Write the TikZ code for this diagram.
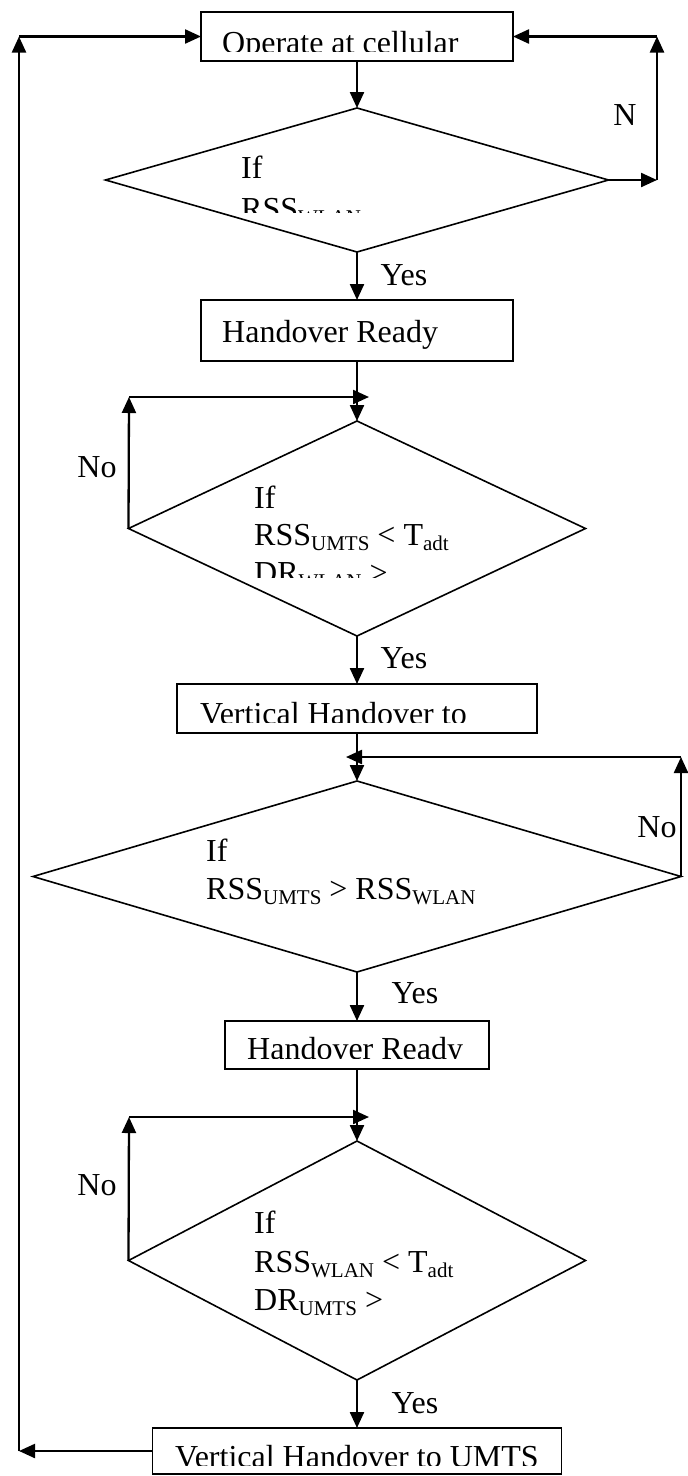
\documentclass[tikz,border=0pt]{standalone}
\usepackage{fontspec}
\setmainfont{Liberation Serif}
\usetikzlibrary{shapes.geometric,arrows.meta}
\newcommand\lsub[1]{\raisebox{-5pt}{\fontsize{21}{21}\selectfont #1}}
\begin{document}
\begin{tikzpicture}[x=1pt,y=-1pt,
  box/.style={draw,line width=1.6pt,inner sep=0,outer sep=0},
  dia/.style={draw,diamond,line width=1.6pt,inner sep=0,outer sep=0},
  arr/.style={line width=2.3pt,-{Triangle[length=16pt,width=14pt]}},
  txt/.style={anchor=base west,inner sep=0,font=\fontsize{32}{38}\selectfont},
  lbl/.style={inner sep=0,font=\fontsize{32}{38}\selectfont}]
\useasboundingbox (0,0) rectangle (688,1476);

% boxes
\node[box,minimum width=312pt,minimum height=49pt] (b1) at (357,36.5) {};
\node[box,minimum width=312pt,minimum height=61pt] (b2) at (357,330.5) {};
\node[box,minimum width=360pt,minimum height=49pt] (b3) at (357,708.5) {};
\node[box,minimum width=264pt,minimum height=48pt] (b4) at (357,1045) {};
\node[box,minimum width=409pt,minimum height=46pt] (b5) at (357,1451) {};

% diamonds
\node[dia,minimum width=503pt,minimum height=144pt] (d1) at (357,180) {};
\node[dia,minimum width=457pt,minimum height=215pt] (d2) at (357,528.5) {};
\node[dia,minimum width=648pt,minimum height=191pt] (d3) at (357,876.5) {};
\node[dia,minimum width=457pt,minimum height=239pt] (d4) at (357,1260.5) {};

% box texts (clipped like the original text boxes)
\begin{scope}
  \clip (201,12) rectangle (513,51);
  \node[txt] (t1) at (222,53) {Operate at cellular};
\end{scope}
\node[txt] (t2) at (222,342) {Handover Ready};
\begin{scope}
  \clip (177,684) rectangle (537,722);
  \node[txt] (t3) at (200,724) {Vertical Handover to};
\end{scope}
\begin{scope}
  \clip (225,1021) rectangle (489,1058);
  \node[txt] (t4) at (247,1059) {Handover Ready};
\end{scope}
\begin{scope}
  \clip (153,1428) rectangle (562,1465);
  \node[txt] (t5) at (175,1467) {Vertical Handover to UMTS};
\end{scope}

% diamond texts
\node[txt] (d1a) at (241,178) {If};
\begin{scope}
  \clip (150,150) rectangle (560,212);
  \node[txt] (d1b) at (241,219) {RSS\lsub{WLAN}};
\end{scope}
\node[txt] (d2a) at (254,508) {If};
\node[txt] (d2b) at (254,545) {RSS\lsub{UMTS} < T\lsub{adt}};
\begin{scope}
  \clip (150,550) rectangle (560,577);
  \node[txt] (d2c) at (254,583) {DR\lsub{WLAN} >};
\end{scope}
\node[txt] (d3a) at (206,861) {If};
\node[txt] (d3b) at (206,899) {RSS\lsub{UMTS} > RSS\lsub{WLAN}};
\node[txt] (d4a) at (254,1233) {If};
\node[txt] (d4b) at (254,1272) {RSS\lsub{WLAN} < T\lsub{adt}};
\node[txt] (d4c) at (254,1310) {DR\lsub{UMTS} >};

% labels
\node[lbl] (n1) at (625,115) {N};
\node[lbl] (y1) at (404,275) {Yes};
\node[lbl] (y2) at (404,658) {Yes};
\node[lbl] (y3) at (415,993) {Yes};
\node[lbl] (y4) at (415,1403) {Yes};
\node[lbl] (no2) at (97,467) {No};
\node[lbl] (no3) at (657,827) {No};
\node[lbl] (no4) at (97,1185) {No};

% coordinates for loop corners
\coordinate (r1) at (657,180);
\coordinate (r2) at (657,36.5);
\coordinate (l1) at (19,36.5);
\coordinate (l2) at (19,1451);
\coordinate (c2) at (129,397);
\coordinate (c2e) at (369,397);
\coordinate (c3) at (681,757);
\coordinate (c3e) at (346,757);
\coordinate (c4) at (129,1117);
\coordinate (c4e) at (369,1117);

% main flow
\draw[arr] (b1.south) -- (d1.north);
\draw[arr] (d1.south) -- (b2.north);
\draw[arr] (b2.south) -- (d2.north);
\draw[arr] (d2.south) -- (b3.north);
\draw[arr] (b3.south) -- (d3.north);
\draw[arr] (d3.south) -- (b4.north);
\draw[arr] (b4.south) -- (d4.north);
\draw[arr] (d4.south) -- (b5.north);

% no-loop top
\draw[arr] (d1.east) -- (r1);
\draw[arr] (r1) -- (r2);
\draw[arr] (r2) -- (b1.east);

% return path
\draw[arr] (b5.west) -- (l2);
\draw[arr] (l2) -- (l1);
\draw[arr] (l1) -- (b1.west);

% wait loops
\draw[arr] (d2.west) -- (c2);
\draw[arr] (c2) -- (c2e);
\draw[arr] (d3.east) -- (c3);
\draw[arr] (c3) -- (c3e);
\draw[arr] (d4.west) -- (c4);
\draw[arr] (c4) -- (c4e);
\end{tikzpicture}
\end{document}
